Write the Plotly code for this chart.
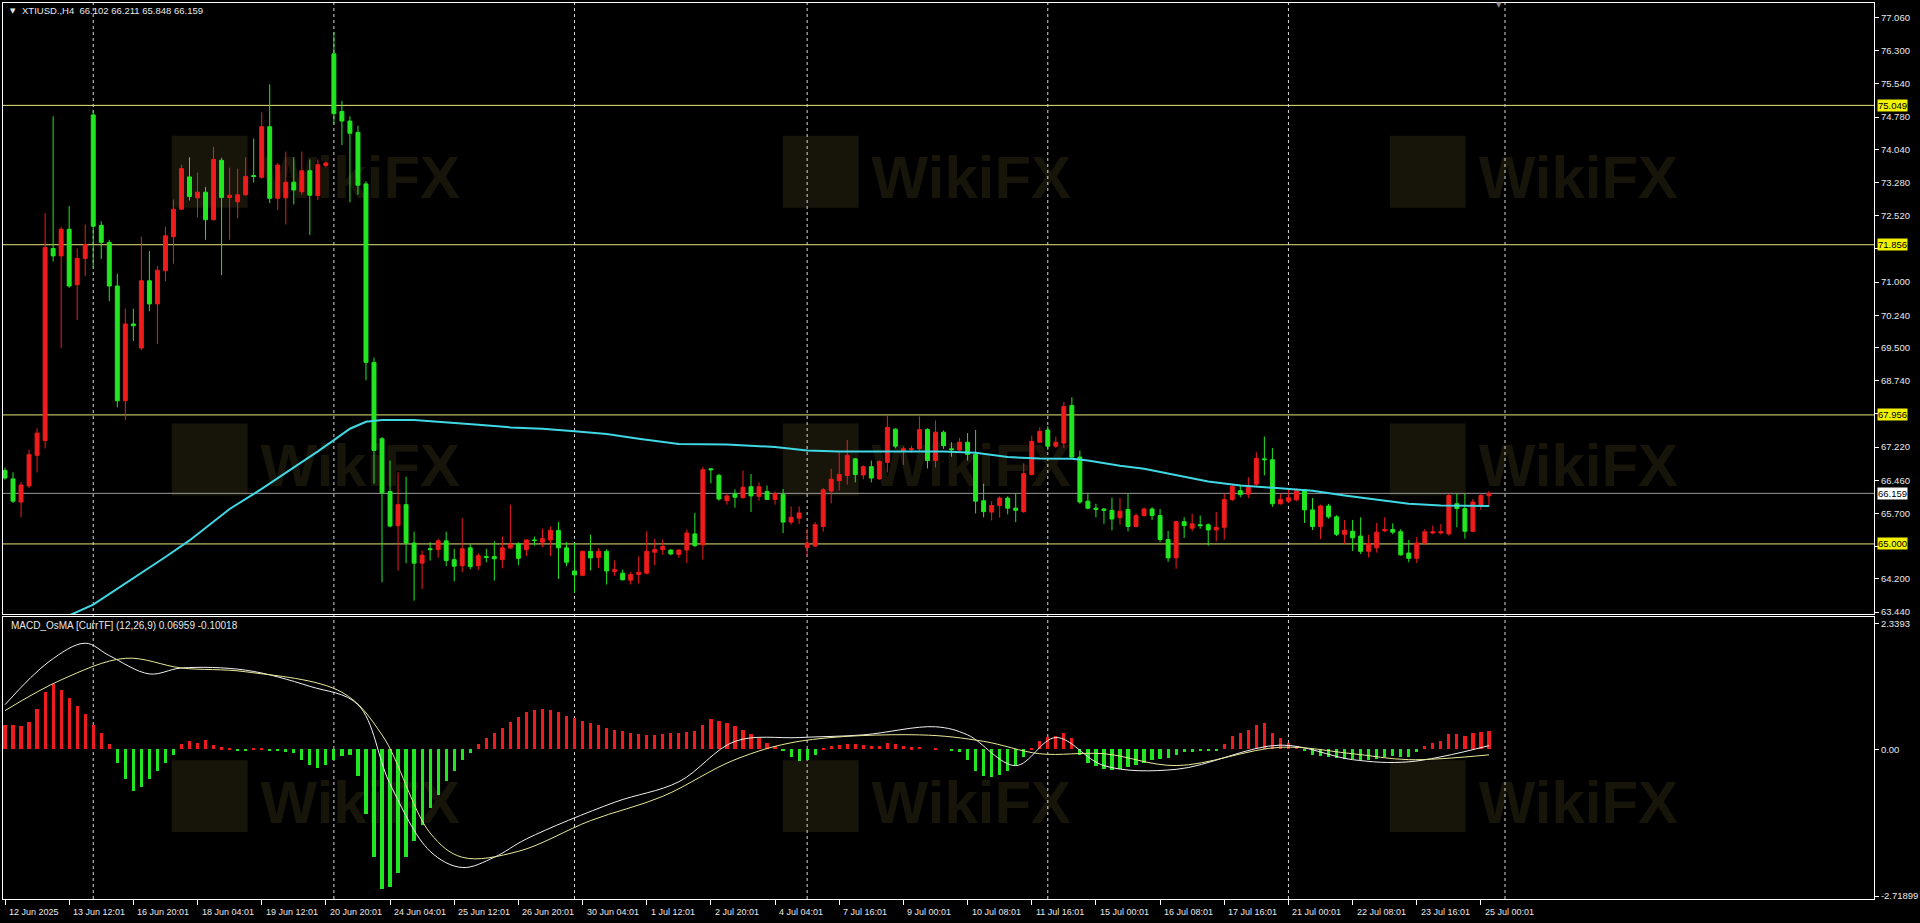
import plotly.graph_objects as go

# ---------------- DATA ----------------
bars = list(range(186))
ohlc = [
    (66.68, 66.75, 66.47, 66.51), (66.49, 66.64, 65.94, 65.98), (65.96, 66.42, 65.61, 66.35), (66.33, 67.16, 66.28, 67.05),
    (67.03, 67.65, 66.64, 67.54), (67.37, 72.58, 67.19, 71.79), (71.77, 74.80, 71.47, 71.60), (71.60, 72.26, 69.49, 72.21),
    (72.21, 72.74, 70.87, 70.91), (70.94, 71.77, 70.13, 71.54), (71.54, 72.32, 71.14, 71.86), (74.83, 74.94, 71.32, 72.28),
    (72.30, 72.39, 71.53, 71.91), (71.91, 71.97, 70.56, 70.91), (70.91, 71.19, 68.13, 68.28), (68.28, 70.39, 67.84, 70.04),
    (70.04, 70.39, 69.65, 70.00), (69.49, 72.04, 69.44, 71.03), (71.03, 71.71, 70.33, 70.50), (70.50, 71.37, 69.58, 71.27),
    (71.26, 72.27, 71.02, 72.06), (72.04, 72.89, 71.42, 72.67), (72.67, 73.69, 72.65, 73.60), (73.41, 73.86, 72.87, 72.96),
    (72.93, 73.51, 72.48, 73.06), (73.06, 73.18, 71.97, 72.43), (72.43, 74.10, 72.41, 73.81), (73.79, 73.85, 71.16, 72.94),
    (72.94, 73.62, 71.97, 72.99), (72.84, 73.60, 72.46, 73.00), (73.00, 73.86, 72.98, 73.42), (73.44, 74.29, 73.28, 73.42),
    (73.40, 74.89, 73.37, 74.56), (74.56, 75.53, 72.81, 72.92), (72.92, 73.73, 72.65, 73.68), (72.93, 73.99, 72.32, 73.29),
    (73.29, 73.86, 72.78, 73.11), (73.07, 73.99, 73.00, 73.55), (73.55, 73.81, 72.08, 72.99), (72.98, 73.81, 72.88, 73.69),
    (73.67, 73.77, 73.63, 73.73), (76.23, 76.73, 74.62, 74.86), (74.91, 75.15, 74.14, 74.69), (74.69, 74.80, 72.83, 74.41),
    (74.43, 74.58, 73.00, 73.22), (73.25, 73.31, 68.75, 69.16), (69.16, 69.27, 66.38, 67.14), (67.41, 67.45, 64.12, 66.17),
    (66.20, 66.91, 65.38, 65.41), (65.42, 66.64, 64.39, 65.90), (65.90, 66.54, 64.56, 65.02), (65.02, 65.28, 63.70, 64.56),
    (64.56, 64.85, 63.97, 64.74), (64.89, 65.04, 64.62, 64.87), (64.87, 65.12, 64.68, 65.07), (65.07, 65.28, 64.49, 64.62),
    (64.64, 64.89, 64.14, 64.49), (64.50, 65.59, 64.35, 64.89), (64.91, 64.99, 64.42, 64.48), (64.50, 64.79, 64.40, 64.73),
    (64.71, 64.89, 64.58, 64.69), (64.71, 65.06, 64.16, 64.66), (64.64, 65.17, 64.44, 64.91), (64.91, 65.90, 64.88, 64.99),
    (65.00, 65.04, 64.51, 64.67), (64.87, 65.11, 64.72, 65.09), (65.09, 65.17, 64.96, 65.08), (65.04, 65.35, 64.93, 65.12),
    (65.09, 65.40, 64.72, 65.31), (65.31, 65.50, 64.20, 64.91), (64.91, 65.04, 64.49, 64.58), (64.38, 65.02, 63.88, 64.29),
    (64.28, 64.85, 64.26, 64.83), (64.83, 65.21, 64.39, 64.68), (64.69, 64.90, 64.45, 64.83), (64.83, 64.88, 64.07, 64.38),
    (64.37, 64.62, 64.27, 64.41), (64.33, 64.41, 64.16, 64.18), (64.17, 64.36, 64.07, 64.30), (64.30, 64.71, 64.09, 64.35),
    (64.33, 65.29, 64.30, 64.83), (64.81, 65.12, 64.51, 64.87), (64.87, 65.10, 64.75, 64.94), (64.86, 64.88, 64.74, 64.77),
    (64.76, 64.88, 64.68, 64.86), (64.86, 65.33, 64.56, 65.25), (65.23, 65.71, 64.93, 64.96), (64.98, 66.77, 64.64, 66.70),
    (66.72, 66.74, 66.39, 66.70), (66.57, 66.61, 65.99, 66.03), (65.99, 66.16, 65.90, 66.10), (66.15, 66.25, 65.83, 66.07),
    (66.06, 66.68, 66.04, 66.30), (66.31, 66.60, 65.73, 66.10), (66.09, 66.41, 65.99, 66.31), (66.20, 66.34, 66.01, 66.02),
    (66.02, 66.20, 65.90, 66.15), (66.13, 66.26, 65.25, 65.50), (65.50, 65.86, 65.44, 65.61), (65.59, 65.86, 65.46, 65.71),
    (64.92, 65.35, 64.70, 65.02), (64.95, 65.50, 64.93, 65.44), (65.40, 66.28, 65.28, 66.24), (66.21, 66.72, 65.93, 66.48),
    (66.45, 67.10, 66.22, 66.59), (66.57, 67.38, 66.36, 67.03), (66.95, 66.97, 66.41, 66.59), (66.58, 66.80, 66.48, 66.77),
    (66.77, 66.91, 66.41, 66.51), (66.49, 66.91, 66.47, 66.89), (66.87, 67.94, 66.64, 67.67), (67.63, 67.65, 67.19, 67.24),
    (67.14, 67.23, 66.81, 67.18), (67.16, 67.25, 67.09, 67.18), (67.18, 67.92, 67.14, 67.62), (67.62, 67.65, 66.73, 66.91),
    (66.91, 67.83, 66.75, 67.56), (67.56, 67.60, 67.18, 67.25), (67.18, 67.33, 67.00, 67.16), (67.15, 67.43, 67.13, 67.33),
    (67.33, 67.54, 66.91, 67.05), (67.05, 67.61, 65.70, 65.98), (65.99, 66.38, 65.61, 65.74), (65.73, 65.98, 65.54, 65.88),
    (65.88, 66.09, 65.60, 66.05), (66.05, 66.09, 65.68, 65.82), (65.82, 66.16, 65.50, 65.77), (65.74, 66.85, 65.71, 66.61),
    (66.59, 67.48, 66.57, 67.35), (67.33, 67.67, 67.31, 67.58), (67.61, 67.70, 67.15, 67.24), (67.24, 67.46, 67.20, 67.33),
    (67.31, 68.25, 67.20, 68.15), (68.17, 68.36, 66.95, 66.99), (66.99, 67.14, 65.92, 65.96), (65.98, 66.16, 65.79, 65.82),
    (65.82, 65.92, 65.61, 65.79), (65.80, 65.82, 65.46, 65.77), (65.77, 66.06, 65.31, 65.57), (65.60, 66.05, 65.44, 65.75),
    (65.79, 66.15, 65.29, 65.40), (65.40, 65.70, 65.38, 65.65), (65.65, 65.83, 65.62, 65.80), (65.80, 65.84, 65.55, 65.65),
    (65.65, 65.80, 65.04, 65.10), (65.10, 65.30, 64.59, 64.68), (64.68, 65.53, 64.43, 65.51), (65.51, 65.61, 65.14, 65.42),
    (65.36, 65.69, 65.29, 65.46), (65.44, 65.65, 65.35, 65.42), (65.44, 65.47, 64.96, 65.32), (65.32, 65.73, 65.06, 65.38),
    (65.38, 66.15, 65.10, 66.02), (66.02, 66.38, 65.98, 66.32), (66.22, 66.36, 66.07, 66.13), (66.14, 66.53, 66.05, 66.30),
    (66.37, 67.10, 66.32, 66.96), (66.95, 67.46, 66.57, 66.93), (66.93, 67.20, 65.85, 65.92), (65.92, 66.15, 65.90, 66.02),
    (65.98, 66.26, 65.94, 66.06), (66.01, 66.27, 65.98, 66.22), (66.24, 66.26, 65.48, 65.78), (65.78, 66.05, 65.32, 65.40),
    (65.40, 65.90, 65.11, 65.87), (65.87, 65.92, 65.58, 65.62), (65.62, 65.66, 65.18, 65.22), (65.22, 65.55, 65.00, 65.31),
    (65.29, 65.55, 64.84, 65.14), (65.18, 65.61, 64.77, 64.83), (64.83, 65.21, 64.69, 65.01), (64.91, 65.48, 64.80, 65.27),
    (65.30, 65.61, 65.27, 65.33), (65.33, 65.47, 65.22, 65.27), (65.28, 65.34, 64.73, 64.75), (64.79, 65.09, 64.58, 64.67),
    (64.67, 65.16, 64.56, 65.02), (65.02, 65.34, 64.98, 65.28), (65.25, 65.42, 65.22, 65.28), (65.25, 65.46, 65.22, 65.28),
    (65.23, 66.15, 65.19, 66.11), (65.92, 66.15, 65.38, 65.81), (65.81, 66.15, 65.12, 65.29), (65.29, 66.03, 65.27, 65.96),
    (65.88, 66.15, 65.78, 66.11), (66.102, 66.211, 65.848, 66.159),
]
opens = [r[0] for r in ohlc]
highs = [r[1] for r in ohlc]
lows = [r[2] for r in ohlc]
closes = [r[3] for r in ohlc]

# moving average (read at sampled bars)
ma_bars = [0, 4, 8, 11, 13, 17, 20, 23, 26, 28, 32, 35, 39, 41, 43, 45, 47, 51, 55, 59, 63, 67, 71, 75, 79, 84, 90,
           96, 100, 104, 108, 112, 117, 121, 125, 129, 133, 135, 139, 142, 146, 150, 154, 159, 163, 167, 171, 175, 179, 185]
ma_vals = [62.75, 63.05, 63.36, 63.61, 63.85, 64.35, 64.70, 65.08, 65.50, 65.80, 66.26, 66.62, 67.12, 67.38, 67.64,
           67.80, 67.84, 67.84, 67.79, 67.73, 67.67, 67.64, 67.58, 67.52, 67.41, 67.29, 67.28, 67.22, 67.14, 67.12,
           67.12, 67.12, 67.12, 67.09, 66.99, 66.96, 66.95, 66.91, 66.79, 66.72, 66.57, 66.43, 66.34, 66.28, 66.22,
           66.11, 66.01, 65.92, 65.88, 65.87]

# MACD OsMA histogram per bar
osma = ([0.45, 0.45, 0.42, 0.50]
        + [0.75, 1.05, 1.20, 1.10, 0.95, 0.80, 0.65]
        + [0.45, 0.30, 0.10]
        + [-0.25, -0.55, -0.78, -0.70, -0.55, -0.40, -0.25, -0.10]
        + [0.10, 0.15, 0.12, 0.16, 0.08]
        + [0.03, 0.02, -0.02, -0.03, 0.01, 0.02, -0.02, -0.04, -0.05, -0.08]
        + [-0.20, -0.30, -0.35, -0.30, -0.20, -0.12, -0.10]
        + [-0.50, -1.20, -2.00, -2.60, -2.55, -2.30, -2.00, -1.70, -1.40, -1.10, -0.85, -0.60, -0.40, -0.20, -0.08]
        + [0.10, 0.20, 0.30, 0.40, 0.50, 0.60, 0.68, 0.72, 0.75, 0.73, 0.68, 0.62, 0.58, 0.52, 0.48, 0.45, 0.40,
           0.36, 0.33, 0.30, 0.28, 0.27, 0.26, 0.28, 0.30, 0.30, 0.32, 0.33, 0.45]
        + [0.55, 0.52, 0.48, 0.42, 0.35, 0.28, 0.20, 0.12, 0.05, -0.02]
        + [-0.15, -0.22, -0.20, -0.10]
        + [0.02, 0.05, 0.08, 0.10, 0.10, 0.08, 0.05, 0.06, 0.12, 0.10, 0.06, 0.03, 0.04, 0.00, 0.02, 0.00, -0.03, -0.06]
        + [-0.20, -0.40, -0.50, -0.52, -0.48, -0.40, -0.30, -0.15, 0.02]
        + [0.15, 0.22, 0.25, 0.30, 0.20]
        + [-0.10, -0.25, -0.32, -0.36, -0.38, -0.36, -0.33, -0.30, -0.25, -0.20, -0.18, -0.17, -0.10, -0.06]
        + [-0.05, -0.04, -0.04, -0.02]
        + [0.10, 0.25, 0.30, 0.36, 0.45, 0.48, 0.30, 0.20, 0.12]
        + [0.05, -0.03, -0.10, -0.12, -0.14, -0.16, -0.18, -0.18, -0.20, -0.20, -0.18, -0.15, -0.12, -0.15, -0.15, -0.05]
        + [0.05, 0.12, 0.15, 0.28, 0.28, 0.25, 0.30, 0.32, 0.33])

macd_bars = [0, 5.5, 10, 13, 18, 22, 30, 38, 44, 48, 53, 57, 61, 65, 76, 84, 91, 99, 107, 116, 120, 126, 131, 137,
             146, 159, 168, 175, 185]
macd_vals = [0.83, 1.63, 1.97, 1.74, 1.40, 1.51, 1.47, 1.17, 0.83, -0.64, -1.89, -2.19, -2.00, -1.66, -0.98, -0.60,
             0.15, 0.22, 0.27, 0.42, 0.27, -0.30, 0.22, -0.30, -0.37, 0.08, -0.19, -0.23, 0.07]
signal_bars = [0, 7, 15, 22, 30, 42, 47, 53, 57, 64, 73, 82, 91, 99, 114, 122, 129, 137, 146, 159, 168, 175, 185]
signal_vals = [0.72, 1.29, 1.69, 1.51, 1.44, 1.06, 0.27, -1.55, -2.00, -1.89, -1.32, -0.87, -0.19, 0.15, 0.27,
               0.15, -0.08, -0.08, -0.30, 0.04, -0.08, -0.19, -0.10]

price_ticks = [77.060, 76.300, 75.540, 74.780, 74.040, 73.280, 72.520, 71.760, 71.000, 70.240, 69.500, 68.740,
               67.980, 67.220, 66.460, 65.700, 64.940, 64.200, 63.440]
hidden_ticks = [71.760, 67.980, 64.940]   # covered by the level boxes in the original
levels = [75.049, 71.856, 67.956, 65.000]
last_price = 66.159
macd_ticks = [2.3393, 0.0, -2.71899]
macd_tick_text = ["2.3393", "0.00", "-2.71899"]

date_bars = list(range(0, 185, 8))
date_labels = ["12 Jun 2025", "13 Jun 12:01", "16 Jun 20:01", "18 Jun 04:01", "19 Jun 12:01", "20 Jun 20:01",
               "24 Jun 04:01", "25 Jun 12:01", "26 Jun 20:01", "30 Jun 04:01", "1 Jul 12:01", "2 Jul 20:01",
               "4 Jul 04:01", "7 Jul 16:01", "9 Jul 00:01", "10 Jul 08:01", "11 Jul 16:01", "15 Jul 00:01",
               "16 Jul 08:01", "17 Jul 16:01", "21 Jul 00:01", "22 Jul 08:01", "23 Jul 16:01", "25 Jul 00:01"]
grid_bars = [11, 41, 71, 100, 130, 160, 187]

header = "XTIUSD.,H4  66.102 66.211 65.848 66.159"
macd_title = "MACD_OsMA [CurrTF] (12,26,9) 0.06959 -0.10018"
watermark = "WikiFX"

# ---------------- STYLE / LAYOUT ----------------
W, H = 1920, 923
L, R, T, B = 3, 43, 2, 24
PW, PH = W - L - R, H - T - B
FONT = "Liberation Sans"
RED = "#ee1c1c"
GREEN = "#22e622"
TXT = "#e8e8e8"
WM = "#17140a"


def py(p):
    return 1 - (p - T) / PH


def pxx(p):
    return (p - L) / PW


fig = go.Figure()

fig.add_trace(go.Candlestick(
    x=bars, open=opens, high=highs, low=lows, close=closes,
    increasing=dict(line=dict(color=RED, width=1), fillcolor=RED),
    decreasing=dict(line=dict(color=GREEN, width=1), fillcolor=GREEN),
    whiskerwidth=0, xaxis="x", yaxis="y", showlegend=False, hoverinfo="skip"))

fig.add_trace(go.Scatter(x=ma_bars, y=ma_vals, mode="lines", line=dict(color="#3fd8e4", width=2),
                         xaxis="x", yaxis="y", showlegend=False, hoverinfo="skip"))

fig.add_trace(go.Bar(x=bars, y=osma, width=0.4,
                     marker=dict(color=[RED if v >= 0 else GREEN for v in osma], line=dict(width=0)),
                     xaxis="x2", yaxis="y2", showlegend=False, hoverinfo="skip"))
fig.add_trace(go.Scatter(x=macd_bars, y=macd_vals, mode="lines", line=dict(color="#f0f0f0", width=1, shape="spline"),
                         xaxis="x2", yaxis="y2", showlegend=False, hoverinfo="skip"))
fig.add_trace(go.Scatter(x=signal_bars, y=signal_vals, mode="lines",
                         line=dict(color="#e8e89a", width=1, shape="spline"),
                         xaxis="x2", yaxis="y2", showlegend=False, hoverinfo="skip"))

shapes = []
# faint watermarks (below the data)
for cy in (171, 459, 796):
    for cx in (210, 822, 1430):
        shapes.append(dict(type="rect", xref="paper", yref="paper",
                           x0=pxx(cx - 38), x1=pxx(cx + 38), y0=py(cy + 36), y1=py(cy - 36),
                           line=dict(color=WM, width=0), fillcolor=WM, layer="below"))
        shapes.append(dict(type="rect", xref="paper", yref="paper",
                           x0=pxx(cx + 45), x1=pxx(cx + 290), y0=py(cy + 30), y1=py(cy - 30),
                           line=dict(width=0), fillcolor="rgba(0,0,0,0)", layer="below",
                           label=dict(text=watermark, textposition="middle left",
                                      font=dict(family="Liberation Sans", size=60, color=WM, weight="bold"))))
for lv in levels:
    shapes.append(dict(type="line", xref="paper", x0=0, x1=1, yref="y", y0=lv, y1=lv,
                       line=dict(color="#e6e67a", width=1), layer="below"))
shapes.append(dict(type="line", xref="paper", x0=0, x1=1, yref="y", y0=last_price, y1=last_price,
                   line=dict(color="#9a9a9a", width=1), layer="below"))
for gb in grid_bars:
    shapes.append(dict(type="line", xref="x", x0=gb, x1=gb, yref="paper", y0=0, y1=1,
                       line=dict(color="#d8d8d8", width=1, dash="3px,3px"), layer="below"))

annotations = []
for lv in levels:
    annotations.append(dict(xref="paper", x=1, xanchor="left", xshift=3, yref="y", y=lv, yanchor="middle",
                            text=f"{lv:.3f}", showarrow=False, bgcolor="#f2f200", borderpad=0,
                            font=dict(family=FONT, size=9.5, color="#000000")))
annotations.append(dict(xref="paper", x=1, xanchor="left", xshift=3, yref="y", y=last_price, yanchor="middle",
                        text=f"{last_price:.3f}", showarrow=False, bgcolor="#ffffff", borderpad=0,
                        font=dict(family=FONT, size=9.5, color="#000000")))
for b, lab in zip(date_bars, date_labels):
    annotations.append(dict(xref="x2", x=b, xanchor="left", xshift=2, yref="paper", y=py(912), yanchor="middle",
                            text=lab, showarrow=False, font=dict(family=FONT, size=9, color=TXT)))
annotations.append(dict(xref="paper", x=pxx(8), yref="paper", y=py(10), xanchor="left", yanchor="middle",
                        text="▼", showarrow=False, font=dict(family="DejaVu Sans", size=7, color=TXT)))
annotations.append(dict(xref="paper", x=pxx(20), yref="paper", y=py(10), xanchor="left", yanchor="middle",
                        text=header, showarrow=False, font=dict(family=FONT, size=9.5, color=TXT)))
annotations.append(dict(xref="paper", x=pxx(9), yref="paper", y=py(625), xanchor="left", yanchor="middle",
                        text=macd_title, showarrow=False, font=dict(family=FONT, size=10, color=TXT)))
annotations.append(dict(xref="paper", x=pxx(1501), yref="paper", y=py(4), xanchor="center", yanchor="middle",
                        text="▼", showarrow=False, font=dict(family="DejaVu Sans", size=7, color="#888888")))

axis_common = dict(showgrid=False, zeroline=False, showline=True, linecolor="#ffffff", linewidth=1, mirror=True)

fig.update_layout(
    width=W, height=H,
    margin=dict(l=L, r=R, t=T, b=B, pad=0),
    paper_bgcolor="#000000", plot_bgcolor="#000000",
    bargap=0, showlegend=False,
    xaxis=dict(domain=[0, 1], anchor="y", range=[-0.25, 233], showticklabels=False, ticks="",
               rangeslider=dict(visible=False), **axis_common),
    xaxis2=dict(domain=[0, 1], anchor="y2", range=[-0.25, 233], matches="x", showticklabels=False,
                ticks="outside", ticklen=5, tickcolor="#ffffff", tickvals=date_bars, **axis_common),
    yaxis=dict(domain=[py(614), 1], anchor="x", side="right", range=[63.387, 77.395],
               tickvals=price_ticks,
               ticktext=["" if v in hidden_ticks else f"{v:.3f}" for v in price_ticks],
               ticks="outside", ticklen=4,
               tickcolor="#ffffff", tickfont=dict(family=FONT, size=9.5, color=TXT), **axis_common),
    yaxis2=dict(domain=[0, py(617)], anchor="x2", side="right", range=[-2.774, 2.450],
                tickvals=macd_ticks, ticktext=macd_tick_text, ticks="outside", ticklen=4,
                tickcolor="#ffffff", tickfont=dict(family=FONT, size=9.5, color=TXT), **axis_common),
    shapes=shapes, annotations=annotations,
)

fig.write_html("out.html", config={"displayModeBar": False},
               post_script="document.body.style.margin='0px';document.body.style.overflow='hidden';")
